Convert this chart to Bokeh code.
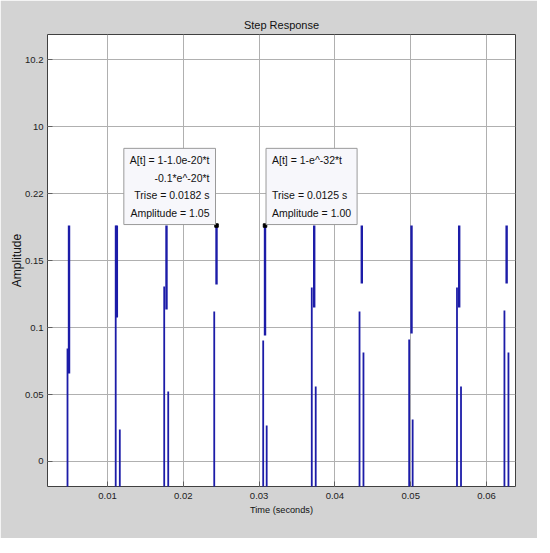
from bokeh.plotting import figure
from bokeh.models import FixedTicker, Range1d, Label
from bokeh.embed import file_html
from bokeh.resources import INLINE

# ---- data -------------------------------------------------------------
# upper (thicker) trace pieces of each pulse: time, top, bottom
upper_t = [0.00492, 0.01123, 0.01778, 0.02438, 0.03078, 0.03727, 0.04355, 0.05011, 0.05640, 0.06266]
upper_top = [0.1761] * 10
upper_bot = [0.0657, 0.1075, 0.1134, 0.1321, 0.0940, 0.1149, 0.1328, 0.0955, 0.1149, 0.1328]

# middle trace pieces: time, top (run down to the bottom of the axes)
mid_t = [0.00472, 0.01108, 0.01748, 0.02408, 0.03054, 0.03695, 0.04325, 0.04980, 0.05611, 0.06237]
mid_top = [0.0843, 0.1761, 0.1306, 0.1119, 0.0903, 0.1299, 0.1119, 0.0910, 0.1299, 0.1127]

# short lower trace pieces
low_t = [0.01162, 0.01801, 0.03100, 0.03747, 0.04377, 0.05026, 0.05664, 0.06290]
low_top = [0.0239, 0.0522, 0.0269, 0.0560, 0.0813, 0.0313, 0.0560, 0.0813]

floor_val = -0.02

# data-tip points
tip_t = [0.02438, 0.03078]
tip_a = [0.1761, 0.1761]

tip1_text = "A[t] = 1-1.0e-20*t\n-0.1*e^-20*t\nTrise = 0.0182 s\nAmplitude = 1.05"
tip2_text = "A[t] = 1-e^-32*t\n\nTrise = 0.0125 s\nAmplitude = 1.00"

x_ticks = [0.01, 0.02, 0.03, 0.04, 0.05, 0.06]
y_tick_pos = [0, 0.05, 0.1, 0.15, 0.2, 0.25, 0.3]
y_tick_labels = ["0", "0.05", "0.1", "0.15", "0.22", "10", "10.2"]

# ---- styling ----------------------------------------------------------
FONT = "Liberation Sans"
BLUE = "#1c1ca8"
BG = "#d3d3d3"
GRID = "#b0b0b0"

p = figure(width=537, height=538, output_backend="svg", toolbar_location=None,
           x_range=Range1d(0.00208, 0.06383), y_range=Range1d(-0.01866, 0.3187),
           title="Step Response")
p.min_border_left = 47
p.min_border_right = 22
p.min_border_top = 34
p.min_border_bottom = 52
p.border_fill_color = BG
p.background_fill_color = "white"
p.outline_line_color = "#404040"
p.outline_line_width = 1

p.title.text_font = FONT
p.title.text_font_size = "11px"
p.title.text_font_style = "normal"
p.title.text_color = "#111111"
p.title.align = "center"
p.title.standoff = 8

p.xaxis.ticker = FixedTicker(ticks=x_ticks)
p.yaxis.ticker = FixedTicker(ticks=y_tick_pos)
p.yaxis.major_label_overrides = {v: s for v, s in zip(y_tick_pos, y_tick_labels)}
p.xaxis.major_label_overrides = {v: ("%g" % v) for v in x_ticks}

for ax in (p.xaxis[0], p.yaxis[0]):
    ax.axis_line_color = None
    ax.major_tick_in = 5
    ax.major_tick_out = 0
    ax.major_tick_line_color = "#606060"
    ax.minor_tick_line_color = None
    ax.major_label_text_font = FONT
    ax.major_label_text_font_size = "9.5px"
    ax.major_label_text_color = "#222222"
    ax.axis_label_text_font = FONT
    ax.axis_label_text_font_style = "normal"
    ax.axis_label_text_color = "#111111"

p.xaxis.axis_label = "Time (seconds)"
p.yaxis.axis_label = "Amplitude"
p.xaxis.axis_label_text_font_size = "9.2px"
p.yaxis.axis_label_text_font_size = "12px"
p.xaxis.major_label_standoff = 6
p.xaxis.axis_label_standoff = 3
p.yaxis.major_label_standoff = 4
p.yaxis.axis_label_standoff = -2

p.xgrid.ticker = FixedTicker(ticks=x_ticks)
p.ygrid.ticker = FixedTicker(ticks=y_tick_pos)
for g in (p.xgrid[0], p.ygrid[0]):
    g.grid_line_color = GRID
    g.grid_line_width = 1

# ---- traces -----------------------------------------------------------
p.segment(x0=mid_t, y0=mid_top, x1=mid_t, y1=[floor_val] * len(mid_t),
          line_color=BLUE, line_width=1.8)
p.segment(x0=low_t, y0=low_top, x1=low_t, y1=[floor_val] * len(low_t),
          line_color=BLUE, line_width=1.8)
p.segment(x0=upper_t, y0=upper_top, x1=upper_t, y1=upper_bot,
          line_color=BLUE, line_width=2.4)

p.scatter(tip_t, tip_a, marker="square", size=3.5, color="black")

common = dict(x_units="data", y_units="data", text_font=FONT, text_font_size="10.5px",
              text_color="#111111", background_fill_color="#f7f7fb",
              border_line_color="#9a9a9a", border_line_width=1, text_line_height=1.45,
              padding=6, y_offset=1)
l1 = Label(x=tip_t[0], y=tip_a[0], text=tip1_text, text_align="right",
           anchor="bottom_right", x_offset=-1, **common)
l2 = Label(x=tip_t[1], y=tip_a[1], text=tip2_text, text_align="left",
           anchor="bottom_left", x_offset=1, **common)
p.add_layout(l1)
p.add_layout(l2)

open("out.html", "w").write(file_html(p, INLINE))
